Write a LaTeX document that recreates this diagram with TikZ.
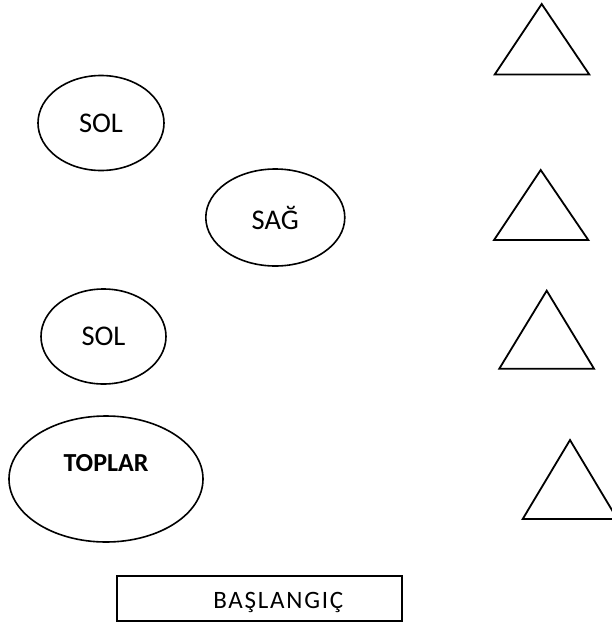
\documentclass[tikz,border=0pt]{standalone}
\usepackage{fontspec}
\setmainfont{Carlito}
\usepackage{tikz}
\usetikzlibrary{shapes.geometric}

\tikzset{
  ball/.style={ellipse,draw,line width=1.6pt,inner sep=0pt,font=\fontsize{28.5}{31}\selectfont},
  startbox/.style={rectangle,draw,line width=1.6pt,inner sep=0pt,minimum width=285,minimum height=45}
}

\begin{document}
\begin{tikzpicture}[x=1pt,y=-1pt]
  \useasboundingbox (0,0) rectangle (612,624);
  \clip (0,0) rectangle (612,624);

  \node[ball,minimum width=126,minimum height=95] (sol1) at (101,123) {SOL};
  \node[ball,minimum width=139,minimum height=97] (sag) at (275.3,217.5) {SAĞ};
  \node[ball,minimum width=125,minimum height=95] (sol2) at (103.5,336.5) {SOL};
  \node[ball,minimum width=194,minimum height=126,
        label={[font=\fontsize{26}{29}\selectfont\bfseries,yshift=16pt]center:TOPLAR}] (toplar) at (106,479) {};

  \node[startbox,label={[font=\fontsize{25}{28}\selectfont\addfontfeature{LetterSpace=7},xshift=19pt,yshift=-4pt]center:BAŞLANGIÇ}] (start) at (259.3,598.3) {};

  % triangles: apex x / apex y / base y / left x / right x
  \foreach \ax/\ay/\by/\lx/\rx in {541.7/4/74.5/494.7/589.3, 540.7/170/240/494/588.3,
                                    546.7/290.7/368.7/499.3/594, 570/440/519/522.7/617.3}
    \draw[line width=1.8pt,line join=miter] (\ax,\ay) -- (\rx,\by) -- (\lx,\by) -- cycle;
\end{tikzpicture}
\end{document}
